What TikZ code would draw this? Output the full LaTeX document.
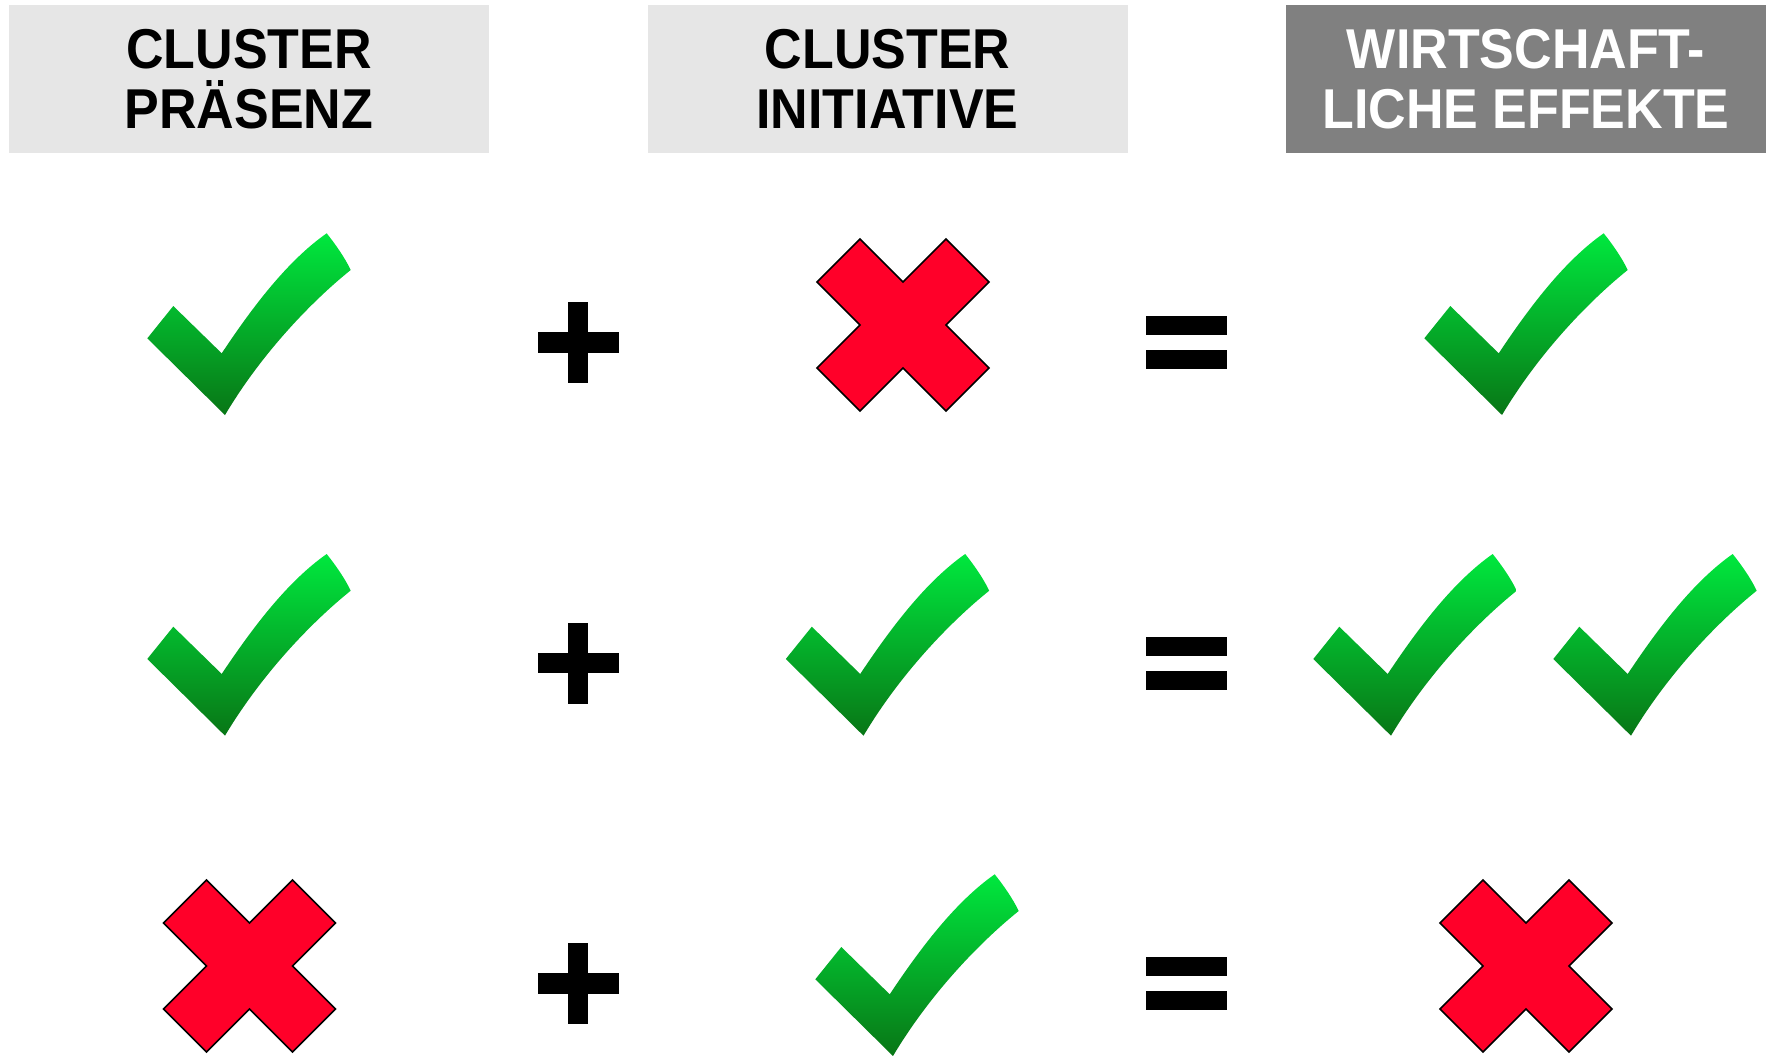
\documentclass[tikz,border=0pt]{standalone}
\usepackage{fontspec}
\setmainfont{Liberation Sans}
\definecolor{hdrLight}{HTML}{E6E6E6}
\definecolor{hdrDark}{HTML}{808080}
\definecolor{chkTop}{RGB}{0,232,62}
\definecolor{chkBot}{RGB}{8,118,22}
\definecolor{crossRed}{HTML}{FF0029}
\newcommand\tallhdr[1]{\scalebox{1}[1.08]{#1}}
\tikzset{
  hdrbox/.style={minimum width=480pt, minimum height=148pt, inner sep=0pt, draw=none},
  htext/.style={inner sep=0pt, anchor=base, font=\fontsize{52}{60}\selectfont\bfseries},
  checkmark/.pic={
    \shade[top color=chkTop, bottom color=chkBot]
      (-74.4,-15) -- (-48.4,-47.3) -- (0,0)
      .. controls (30,-45) and (65,-92) .. (105,-120)
      .. controls (113,-110) and (123,-96) .. (129,-83.3)
      .. controls (90,-52) and (40,0) .. (3.3,61.7) -- cycle;
  },
  crossmark/.pic={
    \draw[fill=crossRed, line width=1.5pt, line join=miter]
      (-43,-86) -- (0,-43) -- (43,-86) -- (86,-43) -- (43,0) -- (86,43)
      -- (43,86) -- (0,43) -- (-43,86) -- (-86,43) -- (-43,0) -- (-86,-43) -- cycle;
  },
  plussign/.pic={
    \fill[black] (-10,-40.5) rectangle (10,40.5);
    \fill[black] (-40.5,-10.2) rectangle (40.5,10.2);
  },
  equalsign/.pic={
    \fill[black] (-40.5,-26.7) rectangle (40.5,-7.4);
    \fill[black] (-40.5,7.4) rectangle (40.5,26.7);
  }
}
\begin{document}
\begin{tikzpicture}[x=1pt,y=-1pt]
\useasboundingbox (0,0) rectangle (1775,1055);
\fill[white] (0,0) rectangle (1775,1055);

% headers
\node[hdrbox, fill=hdrLight] (b1) at (249,79) {};
\node[hdrbox, fill=hdrLight] (b2) at (887.5,79) {};
\node[hdrbox, fill=hdrDark] (b3) at (1526,79) {};
\node[htext] (h1a) at (249,68) {\tallhdr{CLUSTER}};
\node[htext] (h1b) at (249,128) {\tallhdr{PRÄSENZ}};
\node[htext] (h2a) at (887.5,68) {\tallhdr{CLUSTER}};
\node[htext] (h2b) at (887.5,128) {\tallhdr{INITIATIVE}};
\node[htext, text=white] (h3a) at (1526,68) {\tallhdr{WIRTSCHAFT-}};
\node[htext, text=white] (h3b) at (1526,128) {\tallhdr{LICHE EFFEKTE}};

% row 1
\pic (r1c1) at (221.7,353.3) {checkmark};
\pic (r1p) at (578,342.5) {plussign};
\pic (r1c2) at (903,325) {crossmark};
\pic (r1e) at (1186.2,342.7) {equalsign};
\pic (r1c3) at (1498.7,353.3) {checkmark};

% row 2
\pic (r2c1) at (221.7,674) {checkmark};
\pic (r2p) at (578,663) {plussign};
\pic (r2c2) at (860.2,674) {checkmark};
\pic (r2e) at (1186.2,663.2) {equalsign};
\pic (r2c3a) at (1387.7,674) {checkmark};
\pic (r2c3b) at (1627.7,674) {checkmark};

% row 3
\pic (r3c1) at (249.5,966) {crossmark};
\pic (r3p) at (578,983.5) {plussign};
\pic (r3c2) at (889.7,994.3) {checkmark};
\pic (r3e) at (1186.2,983.7) {equalsign};
\pic (r3c3) at (1526,966) {crossmark};
\end{tikzpicture}
\end{document}
